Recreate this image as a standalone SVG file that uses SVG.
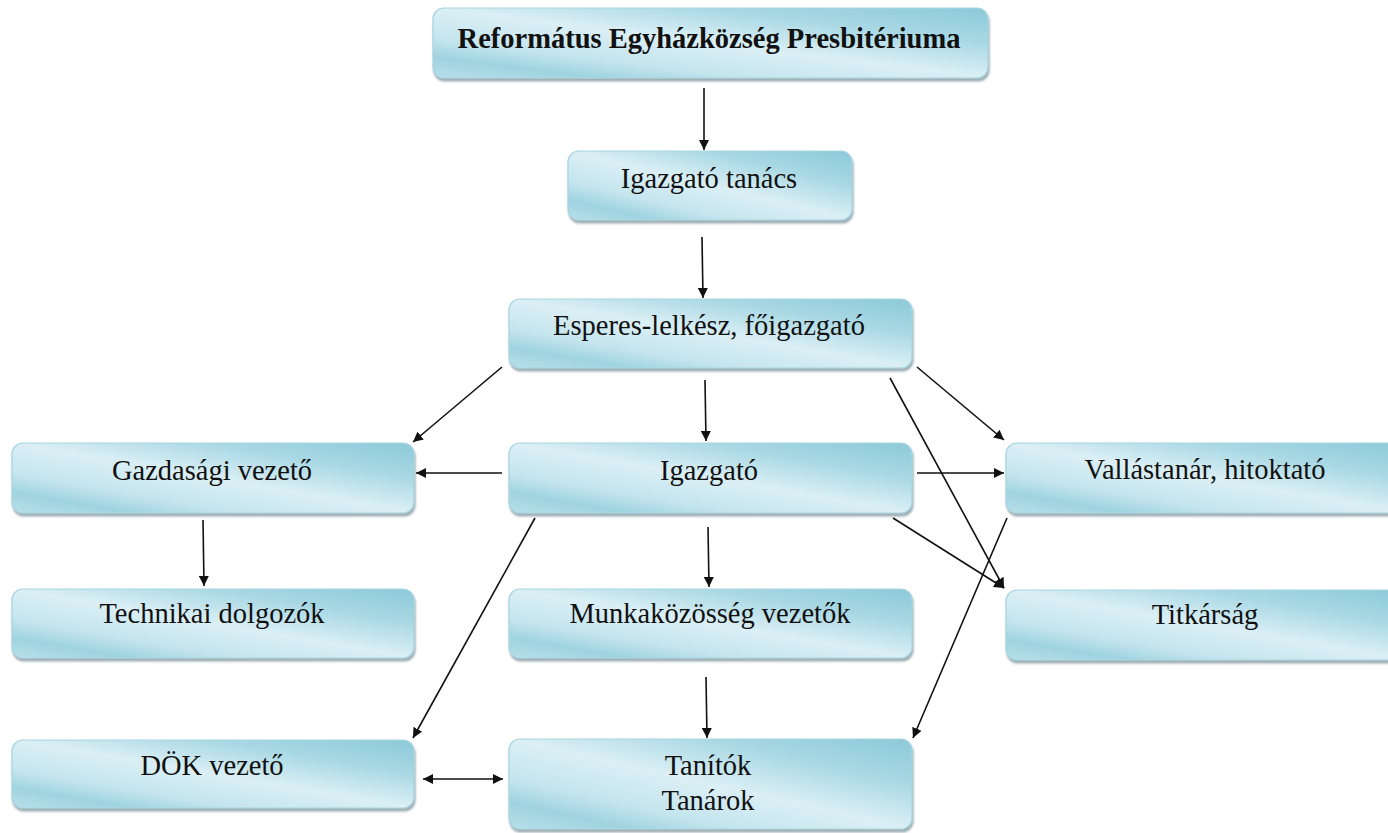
<svg xmlns="http://www.w3.org/2000/svg" width="1388" height="833" viewBox="0 0 1388 833">
<style>
.box{fill:url(#g);stroke:#a7d5e1;stroke-width:1.2;filter:url(#sh)}
.t{font-family:"Liberation Serif","Times New Roman",serif;font-size:28.5px;fill:#111;text-anchor:middle}
.b{font-weight:bold}
.c line{stroke:#111;stroke-width:1.6;fill:none}
.a{marker-end:url(#ah)}
.d{marker-start:url(#as);marker-end:url(#ah)}
</style>
<defs>
<linearGradient id="g" x1="1" y1="0" x2="0" y2="1">
<stop offset="0" stop-color="#8cc9d8"/>
<stop offset="0.25" stop-color="#a8d8e4"/>
<stop offset="0.5" stop-color="#dbeff5"/>
<stop offset="0.72" stop-color="#c4e5ee"/>
<stop offset="0.85" stop-color="#9fd3e0"/>
<stop offset="1" stop-color="#b8e0ea"/>
</linearGradient>
<filter id="sh" x="-5%" y="-10%" width="110%" height="130%">
<feDropShadow dx="1" dy="3" stdDeviation="1.2" flood-color="#4d6a72" flood-opacity="0.55"/>
</filter>
<marker id="ah" viewBox="0 0 10 10" refX="10" refY="5" markerWidth="10" markerHeight="10" markerUnits="userSpaceOnUse" orient="auto">
<path d="M0,0 L10,5 L0,10 z" fill="#111"/>
</marker>
<marker id="as" viewBox="0 0 10 10" refX="0" refY="5" markerWidth="10" markerHeight="10" markerUnits="userSpaceOnUse" orient="auto">
<path d="M10,0 L0,5 L10,10 z" fill="#111"/>
</marker>
</defs>
<rect width="1388" height="833" fill="#fff"/>

<g class="c" id="connectors">
<line class="a" x1="704" y1="88" x2="704" y2="150"/>
<line class="a" x1="702" y1="237" x2="703" y2="298"/>
<line class="a" x1="502" y1="367" x2="413" y2="442"/>
<line class="a" x1="705" y1="380" x2="706" y2="441"/>
<line class="a" x1="917" y1="367" x2="1004" y2="440"/>
<line class="a" x1="890" y1="378" x2="1004" y2="588"/>
<line class="a" x1="502" y1="473" x2="416" y2="473"/>
<line class="a" x1="917" y1="473" x2="1004" y2="473"/>
<line class="a" x1="893" y1="518" x2="1004" y2="588"/>
<line class="a" x1="708" y1="527" x2="709" y2="587"/>
<line class="a" x1="535" y1="518" x2="413" y2="738"/>
<line class="a" x1="203" y1="520" x2="204" y2="586"/>
<line class="a" x1="706" y1="677" x2="707" y2="738"/>
<line class="a" x1="1007" y1="518" x2="913" y2="738"/>
<line class="d" x1="423" y1="779" x2="503" y2="779"/>
</g>

<g id="n1"><rect class="box" x="433" y="8" width="555" height="70" rx="11"/><text class="t b" x="709" y="48">Református Egyházközség Presbitériuma</text></g>
<g id="n2"><rect class="box" x="568" y="151" width="284" height="69" rx="11"/><text class="t" x="709" y="188">Igazgató tanács</text></g>
<g id="n3"><rect class="box" x="509" y="299" width="403" height="69" rx="11"/><text class="t" x="709" y="335">Esperes-lelkész, főigazgató</text></g>
<g id="n4"><rect class="box" x="12" y="443" width="402" height="70" rx="11"/><text class="t" x="212" y="480">Gazdasági vezető</text></g>
<g id="n5"><rect class="box" x="509" y="443" width="403" height="70" rx="11"/><text class="t" x="709" y="480">Igazgató</text></g>
<g id="n6"><rect class="box" x="1006" y="443" width="400" height="70" rx="11"/><text class="t" x="1205" y="479">Vallástanár, hitoktató</text></g>
<g id="n7"><rect class="box" x="12" y="589" width="402" height="69" rx="11"/><text class="t" x="212" y="623">Technikai dolgozók</text></g>
<g id="n8"><rect class="box" x="509" y="589" width="403" height="69" rx="11"/><text class="t" x="710" y="623">Munkaközösség vezetők</text></g>
<g id="n9"><rect class="box" x="1006" y="590" width="400" height="70" rx="11"/><text class="t" x="1205" y="624">Titkárság</text></g>
<g id="n10"><rect class="box" x="12" y="740" width="402" height="68" rx="11"/><text class="t" x="212" y="775">DÖK vezető</text></g>
<g id="n11"><rect class="box" x="509" y="739" width="403" height="90" rx="11"/><text class="t" x="708" y="775">Tanítók</text><text class="t" x="708" y="810">Tanárok</text></g>
</svg>
